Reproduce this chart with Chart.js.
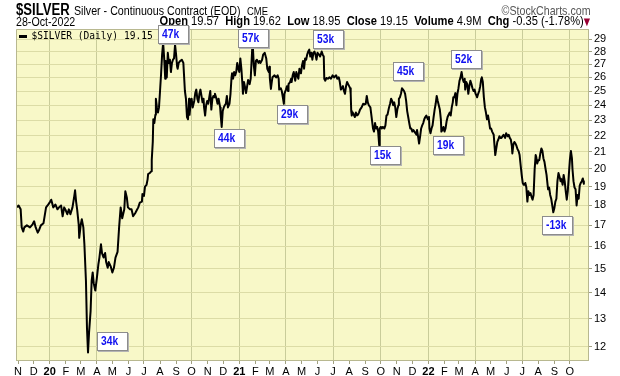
<!DOCTYPE html>
<html><head><meta charset="utf-8">
<script src="https://cdn.jsdelivr.net/npm/chart.js@4.4.1/dist/chart.umd.min.js"></script>
<style>
body{margin:0;background:#fff;}
#wrap{position:relative;width:620px;height:376px;overflow:hidden;background:#fff;}
canvas{position:absolute;left:0;top:0;}
.t{position:absolute;white-space:nowrap;line-height:1;font-family:"Liberation Sans",Arial,sans-serif;color:#000;transform:scaleX(0.82);transform-origin:0 0;}
.tr{transform-origin:100% 0;}
.note{position:absolute;box-sizing:border-box;width:31px;height:19px;background:#fff;border:1px solid #8c8c8c;box-shadow:1px 1px 0 #b4b4b4;white-space:nowrap;overflow:hidden;}
.note span{position:absolute;left:3px;top:2px;color:#1010f0;font:bold 12.5px "Liberation Sans",Arial,sans-serif;line-height:1;transform:scaleX(0.82);transform-origin:0 0;}
</style></head><body>
<div id="wrap">
<canvas id="c" width="620" height="376"></canvas>
<div class="t" style="left:16px;top:1.5px;font-size:16px;font-weight:bold">$SILVER</div>
<div class="t" style="left:74px;top:4px;font-size:13px">Silver - Continuous Contract (EOD)</div>
<div class="t" style="left:247px;top:6px;font-size:11.5px">CME</div>
<div class="t tr" style="right:29px;top:4px;font-size:13px;color:#555">&copy;StockCharts.com</div>
<div class="t" style="left:16px;top:14.5px;font-size:13px">28-Oct-2022</div>
<div class="t tr" style="right:30px;top:14px;font-size:13.6px"><b>Open</b> 19.57 &nbsp;<b>High</b> 19.62 &nbsp;<b>Low</b> 18.95 &nbsp;<b>Close</b> 19.15 &nbsp;<b>Volume</b> 4.9M &nbsp;<b>Chg</b> -0.35 (-1.78%)<span style="color:#990033;font-size:10px;font-family:'DejaVu Sans'">&#9660;</span></div>
<div style="position:absolute;left:19px;top:34.5px;width:8px;height:3px;background:#000"></div>
<div class="t" style="left:31.5px;top:31.4px;font-size:9.6px;font-family:'DejaVu Sans Mono',monospace;transform:none">$SILVER (Daily) 19.15</div>
</div>
<script>
const startDate = '2019-11-01';
const tickLabels = ['N','D','20','F','M','A','M','J','J','A','S','O','N','D','21','F','M','A','M','J','J','A','S','O','N','D','22','F','M','A','M','J','J','A','S','O'];
const yTicks = [12,13,14,15,16,17,18,19,20,21,22,23,24,25,26,27,28,29];

const dayOffsets = [
-2,1,5,7,10,12,17,23,28,31,34,38,41,44,49,54,57,62,64,68,72,76,79,83,86,89,92,95,98,101,105,108,110,112,114,117,118,121,123,126,128,131,133,135,137,140,142,144,146,149,152,155,157,160,162,165,168,170,173,175,179,182,185,188,192,195,198,201,205,207,210,212,216,
219,222,226,229,232,235,239,240,243,245,248,250,251,254,257,258,260,261,263,265,266,268,270,272,274,276,278,280,282,284,285,286,287,289,291,293,295,297,299,301,303,305,307,308,310,313,316,319,322,324,326,328,330,331,333,335,337,340,342,344,346,348,350,352,354,356,358,359,361,363,365,367,369,371,373,375,377,379,380,383,385,387,390,391,393,395,397,399,401,403,405,408,410,412,413,415,417,419,421,423,425,427,429,431,433,434,436,438,
440,444,447,449,452,453,455,457,459,461,464,466,468,471,473,476,479,481,484,485,486,488,490,491,495,498,501,503,504,507,509,511,513,514,517,519,521,522,525,527,528,530,532,535,537,539,541,543,546,548,550,552,554,556,558,560,562,564,566,568,570,572,574,576,578,581,583,586,588,590,591,593,595,598,601,604,607,610,614,616,619,621,623,625,627,629,631,633,635,637,639,641,642,643,644,646,648,650,652,654,656,658,660,663,666,668,
671,673,675,677,680,682,685,687,689,691,693,695,697,698,700,702,704,707,709,711,713,716,718,720,722,724,726,728,730,732,734,735,737,739,741,743,745,747,749,751,753,755,757,759,761,763,765,767,769,770,772,774,776,778,780,782,784,786,788,791,793,794,796,798,800,802,804,806,808,810,812,814,816,817,819,821,823,825,827,829,831,833,835,837,839,840,842,844,846,848,850,852,854,856,858,860,862,863,865,867,869,871,873,875,877,879,881,883,885,886,
888,890,892,894,895,897,899,901,903,905,907,909,911,913,915,918,919,921,923,925,927,929,931,933,935,937,940,942,945,947,949,951,953,954,956,958,960,962,964,966,968,970,972,974,976,977,979,981,983,985,987,989,991,993,995,997,999,1000,1002,1004,1006,1008,1010,1012,1014,1016,1018,1020,1022,1023,1025,1027,1029,1031,1033,1035,1037,1039,1041,1043,1046,1047,1049,1051,1053,1055,1057,1059,1061,1063,1065,1067,1069,1070,1072,1074,1076,1078,1080,1082,1084,1086,1088,1090,1091,1092
];
const closes = [
17.9,18.0,17.8,16.9,16.7,16.9,17.0,16.9,17.05,17.2,16.9,16.65,16.8,17.0,17.1,17.9,18.0,18.2,18.3,17.9,18.05,17.8,17.9,18.0,17.45,17.9,17.75,17.55,17.8,17.55,17.9,18.4,18.8,18.2,17.8,17.05,16.4,17.05,17.3,16.9,16.1,14.5,12.65,11.8,12.5,13.3,14.5,14.85,14.4,14.1,14.6,15.2,15.5,16.1,15.7,15.5,15.7,15.3,15.05,15.3,15.1,14.85,15.05,15.5,15.75,16.9,17.9,17.35,17.8,18.75,18.4,17.9,17.8,
17.8,17.45,17.6,17.75,17.9,18.15,18.2,18.6,18.5,19.0,19.1,19.4,19.7,19.75,19.85,20.5,21.6,23.05,22.8,23.35,24.45,23.85,23.5,23.85,25.0,26.25,27.75,28.7,27.45,25.9,27.25,26.4,26.0,27.9,27.1,27.35,26.4,27.1,27.35,27.45,28.55,27.75,26.8,26.65,27.1,27.25,27.35,27.1,25.0,24.45,23.2,23.05,24.45,23.35,24.1,24.45,23.85,24.3,24.85,25.1,24.45,24.2,24.8,25.1,24.65,24.2,24.45,23.85,23.3,24.0,24.3,24.1,24.55,25.0,23.7,24.45,24.65,24.55,24.8,24.45,24.1,24.45,23.85,23.35,22.55,23.6,23.85,24.0,24.1,24.65,23.85,24.1,24.8,26.0,26.3,25.9,26.4,26.15,26.4,27.1,26.65,26.4,27.45,26.65,25.5,24.8,25.65,25.3,
24.85,25.8,25.5,25.9,28.3,28.5,26.9,26.15,27.25,27.35,27.1,27.25,27.1,27.35,27.75,27.9,27.45,26.65,26.4,26.8,25.9,25.15,25.75,26.0,26.15,26.0,26.15,25.9,25.1,25.2,25.0,24.55,24.1,24.8,25.1,25.35,25.0,25.5,25.65,25.9,25.65,26.15,26.4,25.75,26.4,26.15,25.9,26.65,26.3,26.9,27.25,26.65,27.45,27.35,27.75,28.0,28.15,27.6,27.9,27.35,27.9,28.0,27.75,27.35,27.9,27.75,27.6,28.0,27.75,27.6,25.9,25.75,25.95,25.9,26.0,25.9,26.15,26.0,26.15,25.9,26.0,25.65,25.1,25.2,25.35,25.0,24.8,25.35,25.65,25.5,25.35,25.2,24.8,23.6,23.3,23.5,23.35,23.2,23.5,23.3,23.35,23.5,23.7,23.85,24.1,24.05,
24.1,24.65,24.2,24.0,23.85,23.3,22.45,22.25,22.8,22.45,22.55,22.25,21.4,22.45,22.55,22.45,22.55,22.45,22.65,23.3,23.35,23.85,24.1,24.45,24.3,24.0,24.2,23.85,23.2,23.7,24.0,24.45,24.55,24.8,25.2,25.1,25.0,24.8,24.3,23.6,23.2,22.8,22.45,22.45,22.25,22.35,22.25,22.15,22.05,22.35,21.95,21.5,21.95,22.45,22.65,22.8,23.05,23.2,23.3,23.05,23.2,22.45,22.15,22.45,22.65,23.2,23.7,24.1,24.65,24.3,24.0,23.7,23.05,22.25,22.35,22.55,22.25,22.45,22.9,23.2,23.35,23.5,23.3,23.85,24.2,24.55,24.55,24.85,24.0,24.8,25.2,25.75,26.0,26.4,25.9,25.65,25.9,25.1,25.65,25.5,24.8,25.35,25.75,25.5,25.2,25.0,25.1,24.8,24.65,24.55,
24.8,25.0,25.35,25.9,26.0,25.65,24.55,23.85,23.5,23.05,23.3,22.9,22.45,22.45,22.25,22.05,21.6,20.8,21.2,21.6,21.75,21.95,21.85,21.85,21.95,22.05,21.85,22.15,21.95,22.05,21.85,21.75,21.35,20.9,21.45,21.6,21.5,21.35,21.15,21.05,20.8,20.2,19.65,19.2,19.1,19.1,19.2,18.95,18.2,18.75,18.55,18.65,18.45,18.3,18.55,19.95,20.8,20.7,20.3,20.5,20.5,20.9,21.2,21.05,20.6,20.4,20.0,19.65,19.1,18.85,18.95,18.55,18.35,18.0,17.65,17.85,18.2,18.35,19.3,19.75,19.45,19.3,19.4,19.1,19.65,19.3,18.75,18.3,18.75,19.65,20.5,21.05,20.6,20.0,19.3,18.95,18.85,18.0,18.55,18.35,19.05,19.2,19.3,19.45,19.3,19.15
];

const noteLabels = ['34k','47k','44k','57k','29k','53k','15k','45k','19k','52k','-13k'];
const noteDays   = [152,270,378,425,500,569,680,724,801,836,1012];
const noteValues = [12.53,30.23,22.43,29.89,24.03,29.8,21.36,27.15,21.95,28.14,17.45];

const X_MIN = -4, X_MAX = 1100, Y_MIN = 11.55, Y_MAX = 29.87;

const s0 = new Date(startDate + 'T00:00:00Z');
const monthDays = tickLabels.map((_, i) =>
  Math.round((Date.UTC(s0.getUTCFullYear(), s0.getUTCMonth() + i, 1) - s0.getTime()) / 864e5));
const isQuarter = i => ((s0.getUTCMonth() + i) % 3) === 0;

const points = dayOffsets.map((d, i) => ({x: d, y: closes[i]}));

const PLOT_BG = '#f8f8c8';
const plotDeco = {
  id: 'plotDeco',
  beforeDraw(chart) {
    const a = chart.chartArea, c = chart.ctx;
    c.save();
    c.fillStyle = PLOT_BG;
    c.fillRect(a.left, a.top, a.right - a.left, a.bottom - a.top);
    c.restore();
  },
  afterDraw(chart) {
    const a = chart.chartArea, c = chart.ctx;
    c.save();
    c.strokeStyle = '#b8b890';
    c.lineWidth = 1;
    c.beginPath();
    c.moveTo(a.left + 0.5, a.bottom);
    c.lineTo(a.left + 0.5, a.top + 0.5);
    c.lineTo(a.right, a.top + 0.5);
    c.stroke();
    c.restore();
  }
};

const FONT = '"Liberation Sans", Arial, sans-serif';
const chart = new Chart(document.getElementById('c'), {
  type: 'line',
  data: { datasets: [{ data: points, borderColor: '#000', borderWidth: 2, pointRadius: 0, tension: 0, borderJoinStyle: 'round', parsing: false }] },
  options: {
    responsive: false, animation: false, devicePixelRatio: 1,
    layout: { padding: { left: 16, top: 29, right: 0, bottom: 0 } },
    plugins: { legend: { display: false }, tooltip: { enabled: false } },
    scales: {
      x: {
        type: 'linear', min: X_MIN, max: X_MAX,
        afterBuildTicks: s => { s.ticks = monthDays.map(v => ({ value: v })); },
        afterFit: s => { s.height = 16; },
        ticks: {
          autoSkip: false, maxRotation: 0, minRotation: 0, padding: 1, color: '#000',
          callback: (v, i) => tickLabels[i],
          font: ctx => ({ family: FONT, size: 11, weight: (tickLabels[ctx.index] || '').length === 2 ? 'bold' : 'normal' })
        },
        grid: {
          color: ctx => (ctx.index !== undefined && isQuarter(ctx.index)) ? '#c9cc9a' : 'rgba(0,0,0,0)',
          tickColor: '#a0a080', tickLength: 4, drawTicks: true
        },
        border: { display: true, color: '#b8b890' }
      },
      y: {
        type: 'logarithmic', position: 'right', min: Y_MIN, max: Y_MAX,
        afterBuildTicks: s => { s.ticks = yTicks.map(v => ({ value: v })); },
        afterFit: s => { s.width = 32; },
        ticks: { padding: 2, color: '#000', font: { family: FONT, size: 11 }, callback: v => String(v) },
        grid: { color: '#dcdca6', tickColor: '#a0a080', tickLength: 4 },
        border: { display: true, color: '#b8b890' }
      }
    }
  },
  plugins: [plotDeco]
});

const wrap = document.getElementById('wrap');
noteLabels.forEach((txt, i) => {
  const d = document.createElement('div');
  d.className = 'note';
  const s = document.createElement('span');
  s.textContent = txt;
  d.appendChild(s);
  d.style.left = Math.round(chart.scales.x.getPixelForValue(noteDays[i])) + 'px';
  d.style.top = Math.round(chart.scales.y.getPixelForValue(noteValues[i])) + 'px';
  wrap.appendChild(d);
});
</script>
</body></html>
